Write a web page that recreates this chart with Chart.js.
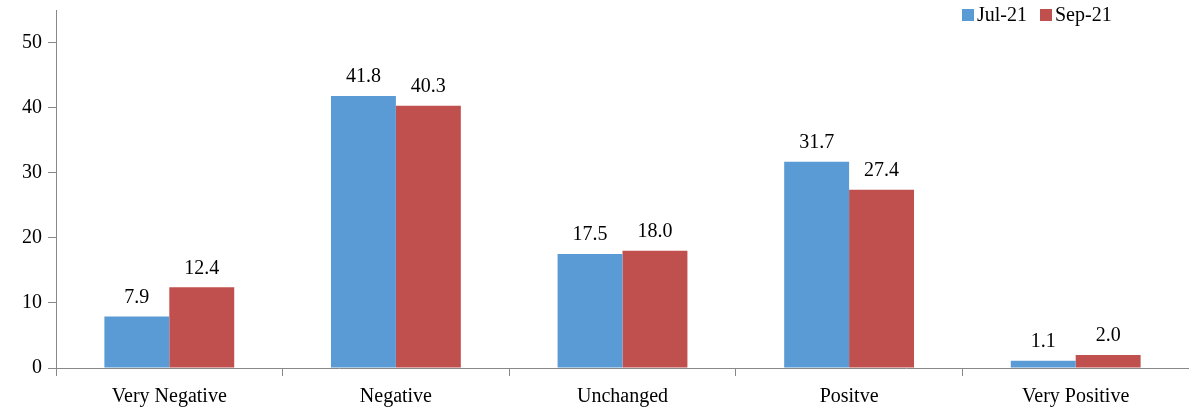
<!DOCTYPE html>
<html>
<head>
<script src="https://cdn.jsdelivr.net/npm/chart.js@4"></script>
<style>
  body { margin: 0; background: #fff; overflow: hidden; }
  #wrap { width: 1189px; height: 422px; margin-top: -8px; }
</style>
</head>
<body>
<div id="wrap"><canvas id="chart"></canvas></div>
<script>
const categories = ['Very Negative', 'Negative', 'Unchanged', 'Positve', 'Very Positive'];
const jul21 = [7.9, 41.8, 17.5, 31.7, 1.1];
const sep21 = [12.4, 40.3, 18.0, 27.4, 2.0];
const yTicks = [0, 10, 20, 30, 40, 50];

const font = 'Liberation Serif';

// value labels above bars, plus a legend that sits over the plot
const barLabels = {
    id: 'barLabels',
    afterDatasetsDraw(chart) {
        const ctx = chart.ctx;
        ctx.save();
        ctx.font = '20px "' + font + '"';
        ctx.fillStyle = '#000';
        ctx.textAlign = 'center';
        ctx.textBaseline = 'bottom';
        chart.data.datasets.forEach((ds, i) => {
            chart.getDatasetMeta(i).data.forEach((bar, j) => {
                ctx.fillText(ds.data[j].toFixed(1), bar.x, bar.y - 9);
            });
        });

        ctx.textAlign = 'left';
        ctx.textBaseline = 'middle';
        let x = 962;
        chart.data.datasets.forEach((ds) => {
            ctx.fillStyle = ds.backgroundColor;
            ctx.fillRect(x, 17, 12, 12);
            ctx.fillStyle = '#000';
            ctx.fillText(ds.label, x + 15, 24);
            x += 78;
        });
        ctx.restore();
    }
};

const ctx = document.getElementById('chart').getContext('2d');

new Chart(ctx, {
    type: 'bar',
    data: {
        labels: categories,
        datasets: [
            { label: 'Jul-21', data: jul21, backgroundColor: '#5B9BD5' },
            { label: 'Sep-21', data: sep21, backgroundColor: '#C0504D' }
        ]
    },
    options: {
        responsive: true,
        maintainAspectRatio: false,
        animation: false,
        layout: { padding: { top: 0, right: 0, left: 16, bottom: -4 } },
        datasets: { bar: { categoryPercentage: 0.573, barPercentage: 1 } },
        plugins: {
            legend: { display: false },
            tooltip: { enabled: false }
        },
        scales: {
            x: {
                grid: { display: true, drawOnChartArea: false, offset: true, tickLength: 8, color: '#888' },
                border: { color: '#888' },
                ticks: { font: { family: font, size: 20 }, color: '#000', padding: 9 }
            },
            y: {
                min: 0,
                max: 55,
                afterBuildTicks: (axis) => { axis.ticks = yTicks.map(v => ({ value: v })); },
                grid: { drawOnChartArea: false, tickLength: 8, color: '#888' },
                border: { color: '#888' },
                ticks: { font: { family: font, size: 20 }, color: '#000', padding: 6 }
            }
        }
    },
    plugins: [barLabels]
});
</script>
</body>
</html>
